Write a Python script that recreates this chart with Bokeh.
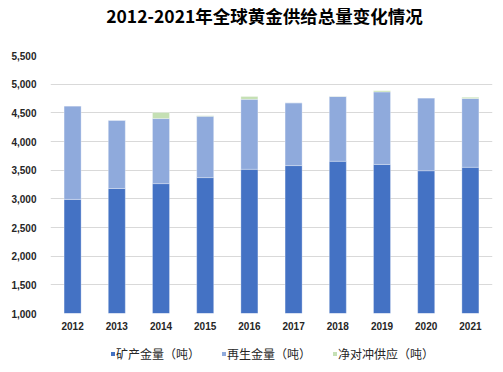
from bokeh.plotting import figure
from bokeh.layouts import column
from bokeh.models import (ColumnDataSource, Range1d, FixedTicker, NumeralTickFormatter,
                          Legend, LegendItem, Label)
from bokeh.embed import file_html
from bokeh.resources import INLINE

years = ["2012", "2013", "2014", "2015", "2016", "2017", "2018", "2019", "2020", "2021"]
mine = [2990, 3180, 3265, 3370, 3515, 3580, 3655, 3600, 3490, 3550]
recycle = [1630, 1190, 1135, 1070, 1220, 1095, 1130, 1265, 1270, 1200]
hedge = [0, 0, 105, 10, 50, 0, 5, 20, 0, 20]
series = ["mine", "recycle", "hedge"]
labels = ["矿产金量（吨）", "再生金量（吨）", "净对冲供应（吨）"]
colors = ["#4472C4", "#8FAADC", "#C5E0B4"]
y_ticks = [1000, 1500, 2000, 2500, 3000, 3500, 4000, 4500, 5000, 5500]
title_text = "2012-2021年全球黄金供给总量变化情况"

source = ColumnDataSource(dict(years=years, mine=mine, recycle=recycle, hedge=hedge))

# title strip
tf = figure(width=495, height=30, x_range=Range1d(0, 1), y_range=Range1d(0, 1),
            x_axis_type=None, y_axis_type=None, output_backend="svg",
            toolbar_location=None, min_border=0)
tf.outline_line_color = None
tf.grid.visible = False
tf.add_layout(Label(x=214, y=15, x_units="screen", y_units="screen", text=title_text,
                    text_align="center", text_baseline="middle",
                    text_font="Noto Sans CJK SC", text_font_style="bold",
                    text_font_size="17.5px", text_color="#000000"))

p = figure(x_range=years, y_range=Range1d(1000, 5500),
           width=495, height=308,
           output_backend="svg", toolbar_location=None,
           min_border_left=50, min_border_right=3, min_border_top=25, min_border_bottom=25)
p.x_range.range_padding = 0
p.outline_line_color = None

rs = p.vbar_stack(series, x="years", width=0.385, source=source, color=colors,
                  line_color="#FFFFFF", line_width=0.5, line_alpha=0.6)

p.yaxis.ticker = FixedTicker(ticks=y_ticks)
p.yaxis.formatter = NumeralTickFormatter(format="0,0")
for ax in (p.xaxis[0], p.yaxis[0]):
    ax.axis_line_color = None
    ax.major_tick_line_color = None
    ax.minor_tick_line_color = None
    ax.major_tick_out = 0
    ax.major_tick_in = 0
    ax.minor_tick_out = 0
    ax.major_label_text_font = "Liberation Sans"
    ax.major_label_text_font_style = "bold"
    ax.major_label_text_font_size = "10px"
    ax.major_label_text_color = "#262626"
p.yaxis.major_label_standoff = 14
p.xaxis.major_label_standoff = 8

p.xgrid.grid_line_color = None
p.ygrid.grid_line_color = "#D9D9D9"
p.ygrid.grid_line_width = 1

# legend strip below the chart
lf = figure(width=495, height=34, x_range=Range1d(0, 1), y_range=Range1d(0, 1),
            x_axis_type=None, y_axis_type=None, output_backend="svg",
            toolbar_location=None, min_border=0)
lf.outline_line_color = None
lf.grid.visible = False
dummy = ColumnDataSource(dict(x=[-10], top=[-10]))
lrs = [lf.vbar(x="x", top="top", width=0.1, source=dummy, fill_color=c, line_color=None)
       for c in colors]
items = [LegendItem(label=l, renderers=[r]) for l, r in zip(labels, lrs)]
legend = Legend(items=items, orientation="horizontal", location=(60, 10),
                border_line_color=None, background_fill_alpha=0,
                glyph_width=5, glyph_height=5, label_standoff=1, spacing=21,
                padding=0, margin=0, label_height=12,
                label_text_font="Noto Sans CJK SC", label_text_font_size="12px",
                label_text_color="#262626")
lf.add_layout(legend)

layout = column(tf, p, lf, spacing=0)
open("out.html", "w").write(file_html(layout, INLINE))
